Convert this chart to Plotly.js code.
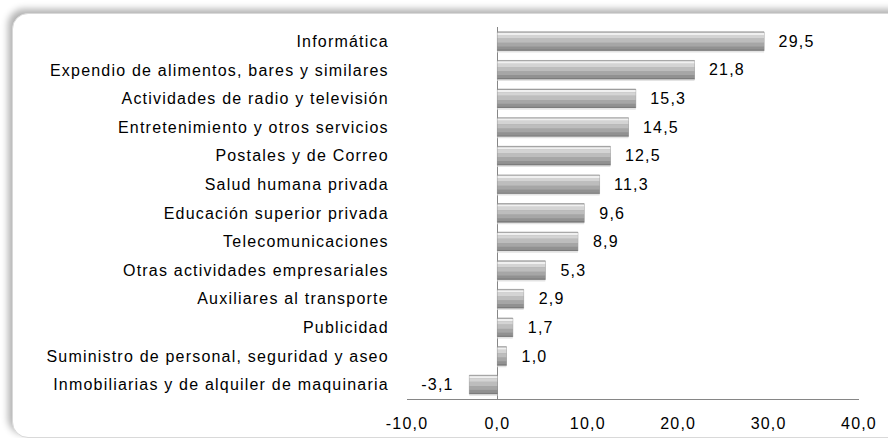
<!DOCTYPE html>
<html>
<head>
<meta charset="utf-8">
<script src="https://cdn.plot.ly/plotly-3.0.1.min.js"></script>
<style>
  html, body { margin:0; padding:0; background:#ffffff; width:888px; height:438px; overflow:hidden; }
  #frame { position:absolute; left:12px; top:13px; width:900px; height:423px; border-radius:16px;
           background:#ffffff; border:1px solid #d9d9d9;
           box-shadow:-4px -4px 7px rgba(0,0,0,0.30); }
  #chart { position:absolute; left:0; top:0; width:888px; height:438px; }
  #chart text { letter-spacing: 1.2px; }
</style>
</head>
<body>
<div id="frame"></div>
<div id="chart"></div>
<script>
const categories = [
  "Informática",
  "Expendio de alimentos, bares y similares",
  "Actividades de radio y televisión",
  "Entretenimiento y otros servicios",
  "Postales y de Correo",
  "Salud humana privada",
  "Educación superior privada",
  "Telecomunicaciones",
  "Otras actividades empresariales",
  "Auxiliares al transporte",
  "Publicidad",
  "Suministro de personal, seguridad y aseo",
  "Inmobiliarias y de alquiler de maquinaria"
];
const values = [29.5, 21.8, 15.3, 14.5, 12.5, 11.3, 9.6, 8.9, 5.3, 2.9, 1.7, 1.0, -3.1];
const tickValues = [-10, 0, 10, 20, 30, 40];

const fmt = v => v.toFixed(1).replace('.', ',');
const labels = values.map(v => v >= 0 ? '\u00a0\u00a0\u2009' + fmt(v) : fmt(v) + '\u00a0\u00a0\u00a0');
const tickLabels = tickValues.map(fmt);

const FONT = 'Liberation Sans, Arial, sans-serif';
const FS = 16;

const base = {
  type: 'bar', orientation: 'h', x: values, y: categories,
  width: 0.66, offset: -0.33,
  marker: { color: '#a8a8a8', line: { color: '#8a8a8a', width: 0.6 } },
  text: labels, textposition: 'outside', cliponaxis: false,
  textfont: { family: FONT, size: FS, color: '#000000' },
  hoverinfo: 'skip'
};

// gradient bands (styling only)
const bands = [
  { off: 0.33, w: 0.06, color: '#e3e3e3' },
  { off: -0.30, w: 0.08, color: '#f0f0f0' },
  { off: -0.22, w: 0.12, color: '#d4d4d4' },
  { off: -0.10, w: 0.15, color: '#bdbdbd' },
  { off: 0.05, w: 0.13, color: '#a6a6a6' },
  { off: 0.18, w: 0.10, color: '#919191' },
  { off: 0.28, w: 0.05, color: '#7c7c7c' }
];
const bandTraces = bands.map(b => ({
  type: 'bar', orientation: 'h', x: values, y: categories,
  width: b.w, offset: b.off,
  marker: { color: b.color, line: { width: 0 } },
  hoverinfo: 'skip'
}));

const layout = {
  width: 888, height: 438,
  margin: { l: 407, r: 29, t: 27, b: 39 },
  paper_bgcolor: 'rgba(0,0,0,0)', plot_bgcolor: 'rgba(0,0,0,0)',
  barmode: 'overlay',
  showlegend: false,
  font: { family: FONT, size: FS, color: '#000000' },
  xaxis: {
    range: [-10, 40], tickmode: 'array', tickvals: tickValues, ticktext: tickLabels,
    showgrid: false, zeroline: true, zerolinecolor: '#868686', zerolinewidth: 1,
    showline: true, linecolor: '#868686', linewidth: 1,
    ticks: 'outside', ticklen: 10, tickcolor: 'rgba(0,0,0,0)',
    tickfont: { family: FONT, size: FS, color: '#000000' }, fixedrange: true
  },
  yaxis: {
    type: 'category', autorange: 'reversed',
    showgrid: false, zeroline: false, showline: false,
    ticks: 'outside', ticklen: 14, tickcolor: 'rgba(0,0,0,0)',
    tickfont: { family: FONT, size: FS, color: '#000000' }, fixedrange: true
  }
};

Plotly.newPlot('chart', [base].concat(bandTraces), layout, { displayModeBar: false, staticPlot: true });
</script>
</body>
</html>
